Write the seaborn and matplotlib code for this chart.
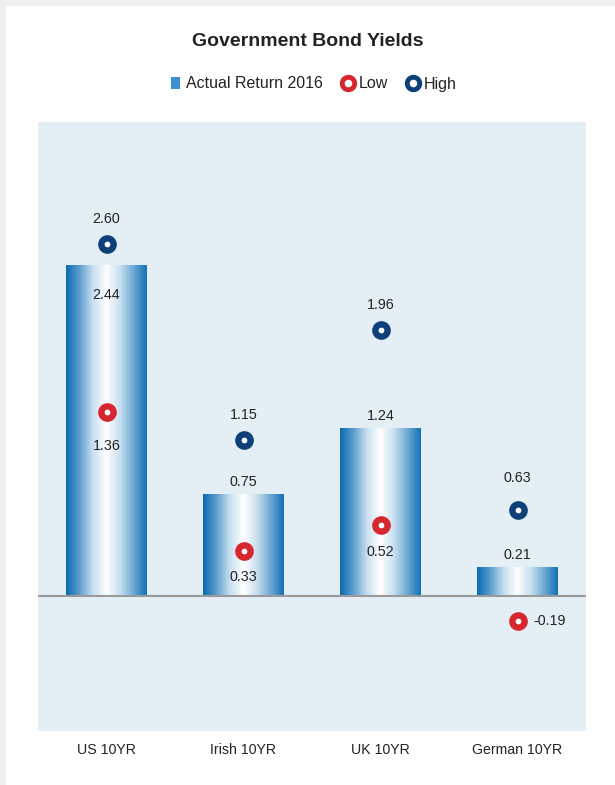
import numpy as np
import pandas as pd
import matplotlib
matplotlib.use("Agg")
import matplotlib.pyplot as plt
from matplotlib.colors import LinearSegmentedColormap
from matplotlib.lines import Line2D
from matplotlib.patches import Patch, Rectangle
import seaborn as sns

categories = ["US 10YR", "Irish 10YR", "UK 10YR", "German 10YR"]
actual = [2.44, 0.75, 1.24, 0.21]
low = [1.36, 0.33, 0.52, -0.19]
high = [2.60, 1.15, 1.96, 0.63]

sns.set_theme(style="white")
plt.rcParams['font.family'] = ['Liberation Sans', 'DejaVu Sans']

fig = plt.figure(figsize=(6.15, 7.85), dpi=100)
fig.patch.set_facecolor("#efefef")
fig.patches.append(Rectangle((6/615, 0), 1, 1 - 6/785, transform=fig.transFigure,
                             facecolor="white", edgecolor="none", zorder=-10))

ax = fig.add_axes([38/615, 54/785, 548/615, 609/785])
ax.set_facecolor("#e3eff4")

df = pd.DataFrame({"cat": categories, "actual": actual, "low": low, "high": high})
sns.barplot(data=df, x="cat", y="actual", order=categories, width=0.584,
            color="#1272b6", ax=ax, zorder=2)

cmap = LinearSegmentedColormap.from_list(
    "grad", ["#0a6aae", "#5d9fcf", "#c9e0f0", "#ffffff", "#c9e0f0", "#6ea9d4", "#1272b6"])
grad = np.linspace(0, 1, 256).reshape(1, -1)
for p in ax.patches:
    x0, w, h = p.get_x(), p.get_width(), p.get_height()
    p.set_facecolor("none")
    p.set_edgecolor("none")
    im = ax.imshow(grad, cmap=cmap, extent=[x0, x0 + w, min(0, h), max(0, h)],
                   aspect="auto", zorder=2, interpolation="bilinear")
    im.set_clip_path(p)

ax.axhline(0, color="#9a9a9a", lw=1.5, zorder=3)

red = "#d6262e"
navy = "#0d3f78"
sns.scatterplot(data=df, x="cat", y="low", ax=ax, s=78, marker="o", facecolor="white",
                edgecolor=red, linewidth=4.6, zorder=5, legend=False)
sns.scatterplot(data=df, x="cat", y="high", ax=ax, s=78, marker="o", facecolor="white",
                edgecolor=navy, linewidth=4.6, zorder=5, legend=False)

ax.set_xlim(-0.5, 3.5)
ax.set_ylim(-1.0, 3.5)

fs = 10.3
tc = "#222222"
# bar labels
for i, v in enumerate(actual):
    if i == 0:
        ax.annotate(f"{v:.2f}", (i, v), xytext=(0, -21.5), textcoords="offset points",
                    ha="center", va="center", fontsize=fs, color=tc, zorder=6)
    else:
        ax.annotate(f"{v:.2f}", (i, v), xytext=(0, 8.5), textcoords="offset points",
                    ha="center", va="center", fontsize=fs, color=tc, zorder=6)
# high labels
for i, v in enumerate(high):
    off = 23 if i == 3 else 18
    ax.annotate(f"{v:.2f}", (i, v), xytext=(0, off), textcoords="offset points",
                ha="center", va="center", fontsize=fs, color=tc, zorder=6)
# low labels
for i, v in enumerate(low):
    if v < 0:
        ax.annotate(f"{v:.2f}", (i, v), xytext=(11.5, 0), textcoords="offset points",
                    ha="left", va="center", fontsize=fs, color=tc, zorder=6)
    else:
        off = -25 if i == 0 else -19
        ax.annotate(f"{v:.2f}", (i, v), xytext=(0, off), textcoords="offset points",
                    ha="center", va="center", fontsize=fs, color=tc, zorder=6)

ax.set_xlabel("")
ax.set_ylabel("")
ax.set_yticks([])
ax.tick_params(axis="x", length=0, pad=8.5, labelsize=10.2, colors="#222222")
for s in ax.spines.values():
    s.set_visible(False)

fig.text(0.5, 1 - 41/785, "Government Bond Yields", ha="center", va="center",
         fontsize=14, fontweight="bold", color="#222222")

handles = [
    Patch(facecolor="#3d8fd0", edgecolor="none"),
    Line2D([], [], marker="o", ls="none", markerfacecolor="white", markeredgecolor=red,
           markersize=9, markeredgewidth=3.5),
    Line2D([], [], marker="o", ls="none", markerfacecolor="white", markeredgecolor=navy,
           markersize=9, markeredgewidth=3.5),
]
fig.legend(handles, ["Actual Return 2016", "Low", "High"], loc="center",
           bbox_to_anchor=(0.51, 1 - 84/785), ncol=3, frameon=False, fontsize=11.5,
           handlelength=0.6, handletextpad=0.35, columnspacing=1.3,
           labelcolor="#222222")

fig.savefig("out.png", dpi=100)
